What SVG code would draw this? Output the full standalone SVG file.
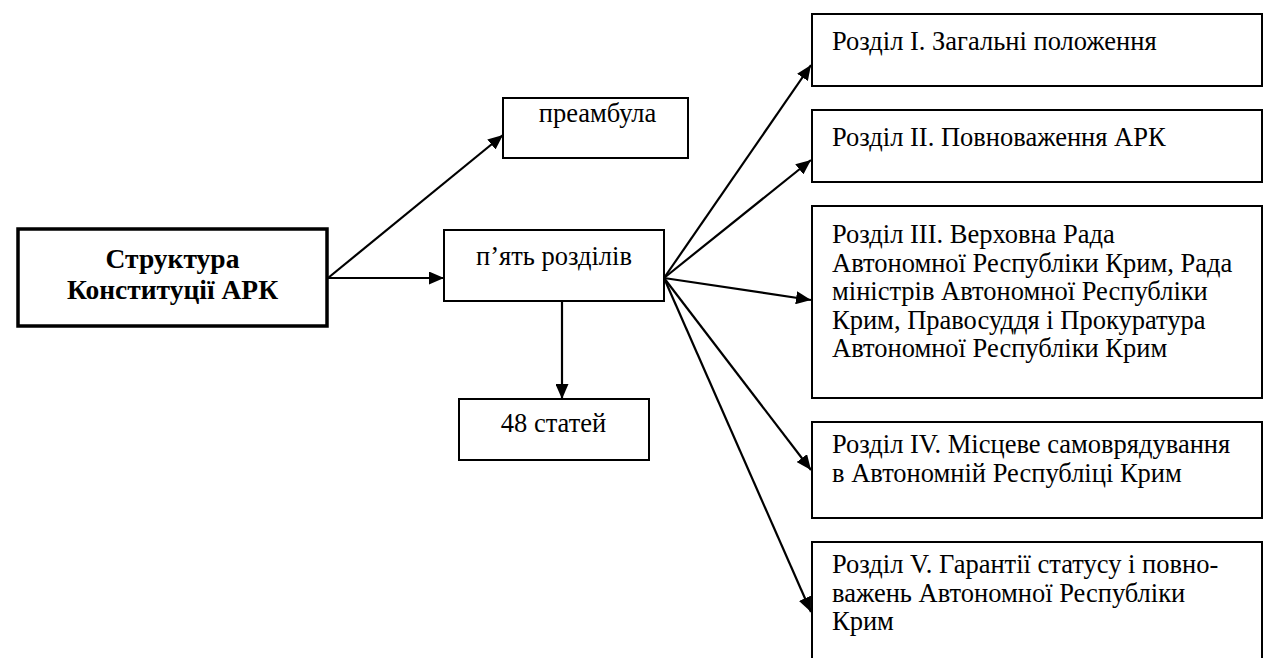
<svg xmlns="http://www.w3.org/2000/svg" width="1266" height="658" viewBox="0 0 1266 658">
<style>
.box{fill:#fff;stroke:#000;stroke-width:2}
.main{fill:#fff;stroke:#000;stroke-width:3.5}
.c{stroke:#000;stroke-width:2.2;fill:none;marker-end:url(#ah)}
</style>
<defs>
<marker id="ah" markerUnits="userSpaceOnUse" markerWidth="16" markerHeight="13" refX="15" refY="6.5" orient="auto">
<path d="M0,0 L15,6.5 L0,13 Z" fill="#000"/>
</marker>
</defs>
<g id="connectors">
<line class="c" x1="328" y1="278" x2="444" y2="278"/>
<line class="c" x1="328" y1="278" x2="503" y2="135"/>
<line class="c" x1="562" y1="301" x2="562" y2="399"/>
<line class="c" x1="664" y1="278" x2="811" y2="65"/>
<line class="c" x1="664" y1="278" x2="811" y2="160"/>
<line class="c" x1="664" y1="278" x2="811" y2="300"/>
<line class="c" x1="664" y1="278" x2="811" y2="470"/>
<line class="c" x1="664" y1="278" x2="811" y2="612"/>
</g>
<g font-family="Liberation Serif, 'Times New Roman', 'DejaVu Serif', serif" font-size="26.5" fill="#000">
<g id="main">
<rect class="main" x="18" y="229" width="309" height="97"/>
<text font-weight="bold" font-size="27.5" x="172.5" y="268" text-anchor="middle">Структура</text>
<text font-weight="bold" font-size="27.5" x="172.5" y="299" text-anchor="middle">Конституції АРК</text>
</g>
<g id="preambula">
<rect class="box" x="503" y="98" width="185" height="60"/>
<text x="597.5" y="122" text-anchor="middle">преамбула</text>
</g>
<g id="piat">
<rect class="box" x="444" y="230" width="220" height="71"/>
<text x="554" y="265" text-anchor="middle">п’ять розділів</text>
</g>
<g id="statei">
<rect class="box" x="459" y="399" width="190" height="61"/>
<text x="553.5" y="432" text-anchor="middle">48 статей</text>
</g>
<g id="r1">
<rect class="box" x="812" y="14" width="450" height="72"/>
<text x="832" y="50">Розділ І. Загальні положення</text>
</g>
<g id="r2">
<rect class="box" x="812" y="110" width="450" height="72"/>
<text x="832" y="146">Розділ ІІ. Повноваження АРК</text>
</g>
<g id="r3">
<rect class="box" x="812" y="206" width="450" height="192"/>
<text x="832" y="243">Розділ ІІІ. Верховна Рада</text>
<text x="832" y="271.5">Автономної Республіки Крим, Рада</text>
<text x="832" y="300">міністрів Автономної Республіки</text>
<text x="832" y="328.5">Крим, Правосуддя і Прокуратура</text>
<text x="832" y="357">Автономної Республіки Крим</text>
</g>
<g id="r4">
<rect class="box" x="812" y="422" width="450" height="96"/>
<text x="832" y="453">Розділ ІV. Місцеве самоврядування</text>
<text x="832" y="482">в Автономній Республіці Крим</text>
</g>
<g id="r5">
<rect class="box" x="812" y="542" width="450" height="130"/>
<text x="832" y="573">Розділ V. Гарантії статусу і повно-</text>
<text x="832" y="602">важень Автономної Республіки</text>
<text x="832" y="630">Крим</text>
</g>
</g>
</svg>
